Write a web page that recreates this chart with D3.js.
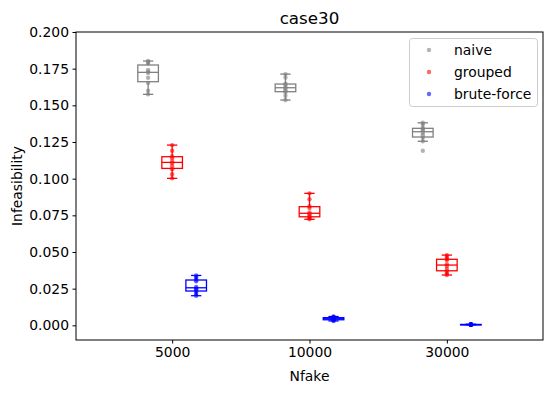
<!DOCTYPE html>
<html><head><meta charset="utf-8">
<script src="https://cdn.jsdelivr.net/npm/d3@7"></script>
<style>body{margin:0;background:#fff}svg{display:block;font-family:"DejaVu Sans",sans-serif}</style>
</head><body>
<svg id="c" width="553" height="393"></svg>
<script>
const categories = ["5000", "10000", "30000"];
const seriesNames = ["naive", "grouped", "brute-force"];
const seriesColors = ["grey", "red", "blue"];
const yTicks = [0.000, 0.025, 0.050, 0.075, 0.100, 0.125, 0.150, 0.175, 0.200];
const naive = [
  [0.1575, 0.1600, 0.1652, 0.1688, 0.1720, 0.1730, 0.1742, 0.1786, 0.1795, 0.1802],
  [0.1536, 0.1565, 0.1590, 0.1602, 0.1615, 0.1625, 0.1640, 0.1647, 0.1690, 0.1713],
  [0.1190, 0.1255, 0.1280, 0.1296, 0.1312, 0.1328, 0.1338, 0.1345, 0.1370, 0.1381]
];
const grouped = [
  [0.1002, 0.1030, 0.1065, 0.1085, 0.1105, 0.1117, 0.1140, 0.1153, 0.1190, 0.1229],
  [0.0723, 0.0732, 0.0738, 0.0746, 0.0758, 0.0770, 0.0800, 0.0812, 0.0860, 0.0900],
  [0.0343, 0.0355, 0.0368, 0.0384, 0.0405, 0.0417, 0.0445, 0.0452, 0.0468, 0.0479]
];
const bruteForce = [
  [0.0202, 0.0215, 0.0230, 0.0246, 0.0250, 0.0262, 0.0300, 0.0312, 0.0328, 0.0340],
  [0.0030, 0.0034, 0.0037, 0.0041, 0.0044, 0.0046, 0.0050, 0.0053, 0.0057, 0.0060],
  [0.0003, 0.0004, 0.0004, 0.0005, 0.0005, 0.0005, 0.0006, 0.0006, 0.0007, 0.0008]
];
const offsets = [-0.175, 0, 0.175];
const allSeries = [naive, grouped, bruteForce];

const svg = d3.select("#c");
const L = 76, R = 543, T = 32, B = 340;
const x = d3.scaleLinear().domain([-0.7, 2.7]).range([L, R]);
const y = d3.scaleLinear().domain([-0.01, 0.2]).range([B, T]);
const boxW = 0.15, capW = 0.075;

// title
svg.append("text").attr("x", (L+R)/2).attr("y", 24).attr("text-anchor","middle")
  .attr("font-size", 16.7).text("case30");

// boxes
allSeries.forEach((ser, si) => {
  const col = seriesColors[si];
  const g = svg.append("g").attr("stroke", col).attr("fill","none").attr("stroke-width",1.3);
  ser.forEach((vals, ci) => {
    const s = vals.slice().sort(d3.ascending);
    const q1 = d3.quantile(s, 0.25), med = d3.quantile(s, 0.5), q3 = d3.quantile(s, 0.75);
    const iqr = q3 - q1;
    const lo = d3.min(s.filter(v => v >= q1 - 1.5*iqr));
    const hi = d3.max(s.filter(v => v <= q3 + 1.5*iqr));
    const cx = ci + offsets[si];
    g.append("rect").attr("x", x(cx - boxW/2)).attr("width", x(cx + boxW/2) - x(cx - boxW/2))
      .attr("y", y(q3)).attr("height", Math.max(0.5, y(q1) - y(q3)));
    g.append("line").attr("x1", x(cx - boxW/2)).attr("x2", x(cx + boxW/2)).attr("y1", y(med)).attr("y2", y(med));
    g.append("line").attr("x1", x(cx)).attr("x2", x(cx)).attr("y1", y(q3)).attr("y2", y(hi));
    g.append("line").attr("x1", x(cx)).attr("x2", x(cx)).attr("y1", y(q1)).attr("y2", y(lo));
    g.append("line").attr("x1", x(cx - capW/2)).attr("x2", x(cx + capW/2)).attr("y1", y(hi)).attr("y2", y(hi));
    g.append("line").attr("x1", x(cx - capW/2)).attr("x2", x(cx + capW/2)).attr("y1", y(lo)).attr("y2", y(lo));
    svg.append("g").selectAll("circle").data(vals).join("circle")
      .attr("cx", x(cx)).attr("cy", d => y(d)).attr("r", 2.2)
      .attr("fill", col).attr("fill-opacity", 0.6);
  });
});

// axes frame
svg.append("rect").attr("x", L).attr("y", T).attr("width", R-L).attr("height", B-T)
  .attr("fill","none").attr("stroke","#000").attr("stroke-width",1);

const yAxis = d3.axisLeft(y).tickValues(yTicks).tickFormat(d3.format(".3f")).tickSize(3.5).tickPadding(3.5);
const ya = svg.append("g").attr("transform", `translate(${L},0)`).call(yAxis);
const xAxis = d3.axisBottom(x).tickValues([0,1,2]).tickFormat(i => categories[i]).tickSize(3.5).tickPadding(3.5);
const xa = svg.append("g").attr("transform", `translate(0,${B})`).call(xAxis);
[ya, xa].forEach(a => {
  a.select(".domain").remove();
  a.selectAll("text").attr("font-size", 13.9).attr("font-family", "DejaVu Sans").attr("fill","#000");
  a.selectAll("line").attr("stroke","#000");
});

svg.append("text").attr("x", (L+R)/2).attr("y", 381).attr("text-anchor","middle")
  .attr("font-size", 13.9).text("Nfake");
svg.append("text").attr("transform", `translate(22,${(T+B)/2}) rotate(-90)`).attr("text-anchor","middle")
  .attr("font-size", 13.9).text("Infeasibility");

// legend
const lg = svg.append("g");
lg.append("rect").attr("x", 409.5).attr("y", 38.5).attr("width", 128).attr("height", 68)
  .attr("rx", 3).attr("fill", "#fff").attr("fill-opacity", 0.8).attr("stroke", "#ccc");
seriesNames.forEach((n, i) => {
  const yy = 50 + i * 22;
  lg.append("circle").attr("cx", 429).attr("cy", yy).attr("r", 2.2)
    .attr("fill", seriesColors[i]).attr("fill-opacity", 0.6);
  lg.append("text").attr("x", 454).attr("y", yy + 5).attr("font-size", 13.9).text(n);
});
</script>
</body></html>
